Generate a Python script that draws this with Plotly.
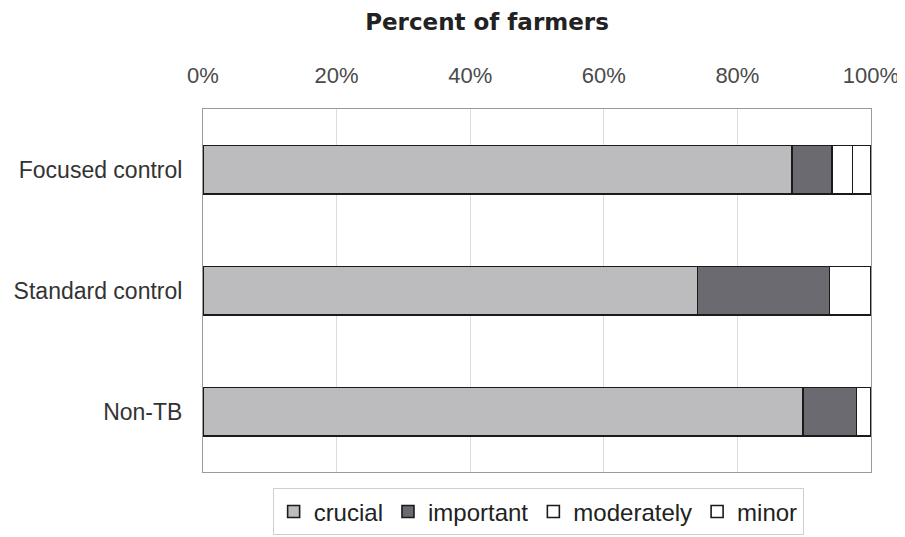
import plotly.graph_objects as go

# --- data (percent of farmers per rating) ---------------------------------- #
GROUPS = ["Focused control", "Standard control", "Non-TB"]
CRUCIAL = [88.2, 74.0, 89.8]
IMPORTANT = [6.0, 19.8, 8.0]
MODERATELY = [3.0, 6.2, 2.2]
MINOR = [2.8, 0.0, 0.0]
TICKS = [0, 20, 40, 60, 80, 100]

SERIES = [
    ("crucial", CRUCIAL, "#bcbcbf"),
    ("important", IMPORTANT, "#6b6a70"),
    ("moderately", MODERATELY, "#ffffff"),
    ("minor", MINOR, "#ffffff"),
]

FONT = "Liberation Sans, Arial, sans-serif"

fig = go.Figure()
for name, vals, color in SERIES:
    fig.add_trace(go.Bar(
        y=GROUPS, x=vals, name=name, orientation="h",
        marker=dict(color=color, line=dict(color="#1a1a1a", width=1.6)),
        width=0.4,
    ))

# page body sits 8px in from the window corner, so the figure is 897x529
fig.update_layout(
    width=897, height=529,
    barmode="stack",
    paper_bgcolor="white", plot_bgcolor="white",
    font=dict(family=FONT, color="#333333", size=22),
    margin=dict(l=195, r=34, t=101, b=65),
    title=dict(text="<b>Percent of farmers</b>", x=0.534, xanchor="center",
               y=0.974, yanchor="middle",
               font=dict(family="DejaVu Sans, sans-serif", size=23,
                         color="#222222")),
    legend=dict(orientation="h", xref="container", yref="container",
                x=0.591, xanchor="center", y=0.092, yanchor="top",
                bordercolor="#cfcfcf", borderwidth=1,
                font=dict(size=24, color="#222222"), traceorder="normal",
                itemwidth=30, tracegroupgap=0),
    showlegend=True,
)
fig.update_xaxes(
    side="top", range=[0, 100], tickvals=TICKS,
    ticktext=[f"{t}%" for t in TICKS],
    tickfont=dict(size=22, color="#4a4a4a"),
    showgrid=True, gridcolor="#dcdcdc", gridwidth=1,
    showline=True, linecolor="#9a9a9a", linewidth=1, mirror=True,
    zeroline=False, ticks="", ticklabelstandoff=16, automargin=False,
)
fig.update_yaxes(
    autorange="reversed",
    tickfont=dict(size=23, color="#333333"),
    showline=True, linecolor="#9a9a9a", linewidth=1, mirror=True,
    ticks="", ticklabelstandoff=15, automargin=False,
)

fig.write_html("out.html")
